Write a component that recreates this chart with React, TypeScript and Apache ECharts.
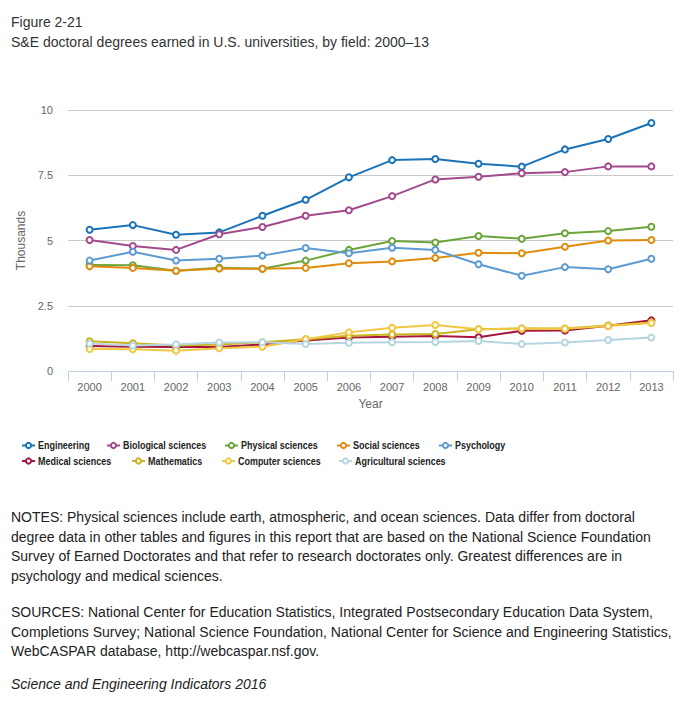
import React, { useEffect, useRef } from "react";
import * as echarts from "echarts";

const years = ["2000","2001","2002","2003","2004","2005","2006","2007","2008","2009","2010","2011","2012","2013"];
const engineering = [5.41, 5.59, 5.22, 5.31, 5.95, 6.56, 7.42, 8.08, 8.12, 7.94, 7.83, 8.49, 8.89, 9.5];
const biological = [5.02, 4.79, 4.64, 5.24, 5.52, 5.95, 6.16, 6.7, 7.34, 7.44, 7.58, 7.62, 7.84, 7.84];
const physical = [4.06, 4.05, 3.84, 3.96, 3.92, 4.23, 4.64, 4.98, 4.92, 5.17, 5.07, 5.28, 5.36, 5.53];
const social = [4.01, 3.95, 3.84, 3.93, 3.92, 3.95, 4.13, 4.2, 4.33, 4.53, 4.51, 4.76, 5.0, 5.02];
const psychology = [4.23, 4.57, 4.23, 4.3, 4.42, 4.71, 4.51, 4.72, 4.64, 4.09, 3.65, 3.98, 3.9, 4.3];
const medical = [0.96, 0.93, 0.92, 0.92, 1.02, 1.17, 1.28, 1.31, 1.34, 1.29, 1.54, 1.55, 1.73, 1.94];
const mathematics = [1.14, 1.06, 0.98, 1.02, 1.1, 1.22, 1.35, 1.4, 1.42, 1.6, 1.63, 1.63, 1.74, 1.86];
const computer = [0.84, 0.83, 0.78, 0.87, 0.93, 1.22, 1.48, 1.66, 1.76, 1.6, 1.63, 1.62, 1.72, 1.84];
const agricultural = [1.05, 0.98, 1.02, 1.09, 1.1, 1.03, 1.08, 1.1, 1.11, 1.15, 1.03, 1.09, 1.19, 1.28];

const seriesNames = ["Engineering","Biological sciences","Physical sciences","Social sciences","Psychology","Medical sciences","Mathematics","Computer sciences","Agricultural sciences"];
const seriesData = [engineering, biological, physical, social, psychology, medical, mathematics, computer, agricultural];
const seriesColors = ["#1a73b8","#a24a8c","#6ba53a","#df8c0e","#5c9ad2","#a6163e","#c9b31e","#f0c740","#b5d5e0"];
const yTicks = [0, 2.5, 5, 7.5, 10];

const titleLines = ["Figure 2-21", "S&E doctoral degrees earned in U.S. universities, by field: 2000\u201313"];
const notesLines = [
  "NOTES: Physical sciences include earth, atmospheric, and ocean sciences. Data differ from doctoral",
  "degree data in other tables and figures in this report that are based on the National Science Foundation",
  "Survey of Earned Doctorates and that refer to research doctorates only. Greatest differences are in",
  "psychology and medical sciences.",
];
const sourcesLines = [
  "SOURCES: National Center for Education Statistics, Integrated Postsecondary Education Data System,",
  "Completions Survey; National Science Foundation, National Center for Science and Engineering Statistics,",
  "WebCASPAR database, http://webcaspar.nsf.gov.",
];
const creditLine = "Science and Engineering Indicators 2016";

const FONT = "'Liberation Sans', Arial, sans-serif";

// legend layout: [icon left, row center]
const legendPos = [
  [22, 445.5], [107, 445.5], [225, 445.5], [337, 445.5], [439, 445.5],
  [22, 461], [132, 461], [222, 461], [339, 461],
];

export default function App() {
  const ref = useRef<HTMLDivElement>(null);
  useEffect(() => {
    if (!ref.current) return;
    const chart = echarts.init(ref.current, undefined, { renderer: "svg" });
    const textEl = (text: string, x: number, y: number, extra: any = {}) => ({
      type: "text",
      x,
      y,
      style: {
        text,
        fill: "#222",
        font: `14px ${FONT}`,
        textVerticalAlign: "middle",
        verticalAlign: "middle",
        ...extra,
      },
    });
    const graphics: any[] = [];
    graphics.push(textEl(titleLines[0], 11, 22, { fill: "#333" }));
    graphics.push(textEl(titleLines[1], 11, 42, { fill: "#333" }));
    notesLines.forEach((l, i) => graphics.push(textEl(l, 11, 517 + i * 19.7)));
    sourcesLines.forEach((l, i) => graphics.push(textEl(l, 11, 612 + i * 19.7)));
    graphics.push(textEl(creditLine, 11, 684, { font: `italic 14px ${FONT}` }));

    seriesNames.forEach((n, i) => {
      const c = seriesColors[i];
      graphics.push({
        type: "group",
        x: legendPos[i][0],
        y: legendPos[i][1],
        children: [
          { type: "line", shape: { x1: 0, y1: 0, x2: 13, y2: 0 }, style: { stroke: c, lineWidth: 2 } },
          { type: "circle", shape: { cx: 6.5, cy: 0, r: 2.6 }, style: { fill: "#fff", stroke: c, lineWidth: 2 } },
          {
            type: "text",
            x: 16,
            y: 0,
            scaleX: 0.78,
            style: {
              text: n,
              fill: "#222",
              font: `bold 11.5px ${FONT}`,
              textVerticalAlign: "middle",
              verticalAlign: "middle",
            },
          },
        ],
      });
    });

    const option: any = {
      animation: false,
      backgroundColor: "#ffffff",
      grid: { left: 68, right: 11, top: 110, bottom: 349 },
      xAxis: {
        type: "category",
        data: years,
        boundaryGap: true,
        axisLine: { lineStyle: { color: "#c0d0e0" } },
        axisTick: { show: true, length: 10, lineStyle: { color: "#c0d0e0" } },
        axisLabel: { color: "#666", fontSize: 11, fontFamily: FONT, margin: 10 },
        name: "Year",
        nameLocation: "middle",
        nameGap: 27,
        nameTextStyle: { color: "#666", fontSize: 12, fontFamily: FONT },
      },
      yAxis: {
        type: "value",
        min: 0,
        max: 10,
        interval: 2.5,
        axisLabel: {
          color: "#666",
          fontSize: 11,
          fontFamily: FONT,
          margin: 15,
          formatter: (v: number) => (yTicks.includes(v) ? String(v) : ""),
        },
        splitLine: { lineStyle: { color: "#c8c8c8" } },
        axisLine: { show: false },
        axisTick: { show: false },
        name: "Thousands",
        nameLocation: "middle",
        nameGap: 41,
        nameRotate: 90,
        nameTextStyle: { color: "#666", fontSize: 12, fontFamily: FONT },
      },
      series: seriesNames.map((n, i) => ({
        name: n,
        type: "line",
        data: seriesData[i],
        color: seriesColors[i],
        symbol: "emptyCircle",
        symbolSize: 6,
        lineStyle: { width: 2 },
        itemStyle: { borderWidth: 2 },
        emphasis: { disabled: true },
      })),
      graphic: graphics,
    };
    chart.setOption(option);
    return () => chart.dispose();
  }, []);
  return (
    <div
      ref={ref}
      style={{ position: "absolute", left: 0, top: 0, width: 684, height: 720 }}
    />
  );
}
